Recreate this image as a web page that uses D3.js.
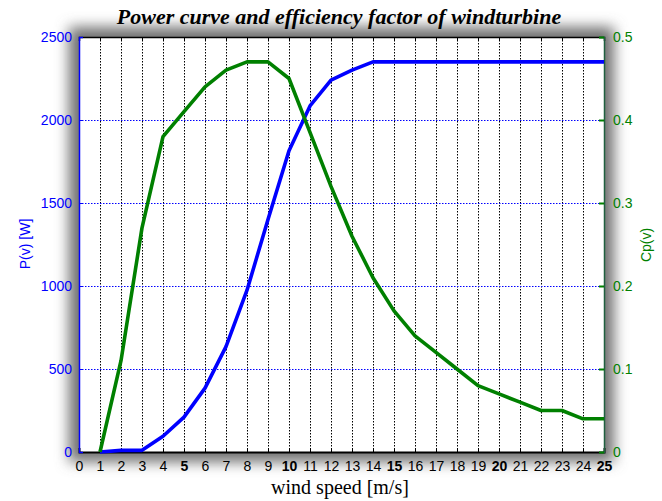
<!DOCTYPE html>
<html><head><meta charset="utf-8">
<script src="https://cdn.jsdelivr.net/npm/d3@7"></script>
<style>body{margin:0;background:#fff}svg{display:block}</style>
</head><body>
<script>
const windSpeed = [1,2,3,4,5,6,7,8,9,10,11,12,13,14,15,16,17,18,19,20,21,22,23,24,25];
const power = [0,10,10,95,210,385,635,975,1400,1815,2085,2240,2300,2350,2350,2350,2350,2350,2350,2350,2350,2350,2350,2350,2350];
const cp = [0,0.11,0.27,0.38,0.41,0.44,0.46,0.47,0.47,0.45,0.385,0.32,0.26,0.21,0.17,0.14,0.12,0.10,0.08,0.07,0.06,0.05,0.05,0.04,0.04];
const xTicks = d3.range(0,26);
const boldXTicks = [5,10,15,20,25];
const powerTicks = [0,500,1000,1500,2000,2500];
const cpTicks = [0,0.1,0.2,0.3,0.4,0.5];
const title = "Power curve and efficiency factor of windturbine";
const xLabel = "wind speed [m/s]";
const yLabelLeft = "P(v) [W]";
const yLabelRight = "Cp(v)";

const W=662,H=501;
const m={l:79,r:58,t:37,b:49};
const pw=W-m.l-m.r, ph=H-m.t-m.b;
const svg=d3.select("body").append("svg").attr("width",W).attr("height",H);
const defs=svg.append("defs");
const f=defs.append("filter").attr("id","sh").attr("x","-20%").attr("y","-20%").attr("width","140%").attr("height","140%");
f.append("feGaussianBlur").attr("stdDeviation",7);

const x=d3.scaleLinear().domain([0,25]).range([m.l,m.l+pw]);
const yL=d3.scaleLinear().domain([0,2500]).range([m.t+ph,m.t]);
const yR=d3.scaleLinear().domain([0,0.5]).range([m.t+ph,m.t]);

// shadow
svg.append("rect").attr("x",m.l-10).attr("y",m.t-10).attr("width",pw+20).attr("height",ph+20)
  .attr("fill","#707070").attr("filter","url(#sh)");
svg.append("rect").attr("x",m.l).attr("y",m.t).attr("width",pw).attr("height",ph).attr("fill","#fff");

// grid
const g=svg.append("g");
g.selectAll(".vg").data(xTicks.slice(1,-1)).join("line")
  .attr("x1",d=>x(d)+0.5).attr("x2",d=>x(d)+0.5).attr("y1",m.t).attr("y2",m.t+ph)
  .attr("stroke","#000").attr("stroke-width",1).attr("stroke-dasharray","1.5,1.5");
g.selectAll(".hg").data(powerTicks.slice(1,-1)).join("line")
  .attr("y1",d=>Math.round(yL(d))+0.5).attr("y2",d=>Math.round(yL(d))+0.5).attr("x1",m.l).attr("x2",m.l+pw)
  .attr("stroke","#0000ff").attr("stroke-width",1).attr("stroke-dasharray","1.5,1.5");

// axes
const xb=svg.append("g").attr("transform",`translate(0,${m.t+ph})`)
  .call(d3.axisBottom(x).tickValues(xTicks).tickSize(-4).tickPadding(9).tickFormat(d3.format("d")));
xb.select(".domain").attr("stroke","#000").attr("stroke-width",2);
xb.selectAll("text").attr("font-family","Liberation Sans, Arial, sans-serif").attr("font-size",14).attr("fill","#000")
  .attr("font-weight",d=>boldXTicks.includes(d)?"bold":"normal");
const xt=svg.append("g").attr("transform",`translate(0,${m.t})`)
  .call(d3.axisTop(x).tickValues(xTicks).tickSize(-4).tickFormat(""));
xt.select(".domain").attr("stroke","#000").attr("stroke-width",1.5);

const yl=svg.append("g").attr("transform",`translate(${m.l},0)`)
  .call(d3.axisLeft(yL).tickValues(powerTicks).tickSize(-4).tickPadding(7).tickFormat(d3.format("d")));
yl.select(".domain").attr("stroke","#0000ff").attr("stroke-width",1.5);
yl.selectAll(".tick line").attr("stroke","#0000ff");
yl.selectAll("text").attr("font-family","Liberation Sans, Arial, sans-serif").attr("font-size",14).attr("fill","#0000ff");

const yr=svg.append("g").attr("transform",`translate(${m.l+pw},0)`)
  .call(d3.axisRight(yR).tickValues(cpTicks).tickSize(-5).tickPadding(9).tickFormat(d=>d===0?"0":d3.format(".1f")(d)));
yr.select(".domain").attr("stroke","#1f5f3f").attr("stroke-width",1.5);
yr.selectAll(".tick line").attr("stroke","#008000").attr("stroke-width",2);
yr.selectAll("text").attr("font-family","Liberation Sans, Arial, sans-serif").attr("font-size",14).attr("fill","#008000");

// lines
const lineP=d3.line().x((d,i)=>x(windSpeed[i])).y(d=>yL(d));
const lineC=d3.line().x((d,i)=>x(windSpeed[i])).y(d=>yR(d));
svg.append("path").datum(power).attr("d",lineP).attr("fill","none").attr("stroke","#0000ff").attr("stroke-width",3.6).attr("stroke-linejoin","round");
svg.append("path").datum(cp).attr("d",lineC).attr("fill","none").attr("stroke","#008000").attr("stroke-width",3.6).attr("stroke-linejoin","round");

// labels
svg.append("text").attr("x",339).attr("y",24).attr("text-anchor","middle")
  .attr("font-family","Liberation Serif, Times New Roman, serif").attr("font-style","italic").attr("font-weight","bold")
  .attr("font-size",22).attr("fill","#000").text(title);
svg.append("text").attr("x",340).attr("y",494).attr("text-anchor","middle")
  .attr("font-family","Liberation Serif, Times New Roman, serif").attr("font-size",20).attr("fill","#000").text(xLabel);
svg.append("text").attr("transform",`translate(30,244) rotate(-90)`).attr("text-anchor","middle")
  .attr("font-family","Liberation Sans, Arial, sans-serif").attr("font-size",14).attr("fill","#0000ff").text(yLabelLeft);
svg.append("text").attr("transform",`translate(651,245) rotate(-90)`).attr("text-anchor","middle")
  .attr("font-family","Liberation Sans, Arial, sans-serif").attr("font-size",14).attr("fill","#008000").text(yLabelRight);
</script>
</body></html>
